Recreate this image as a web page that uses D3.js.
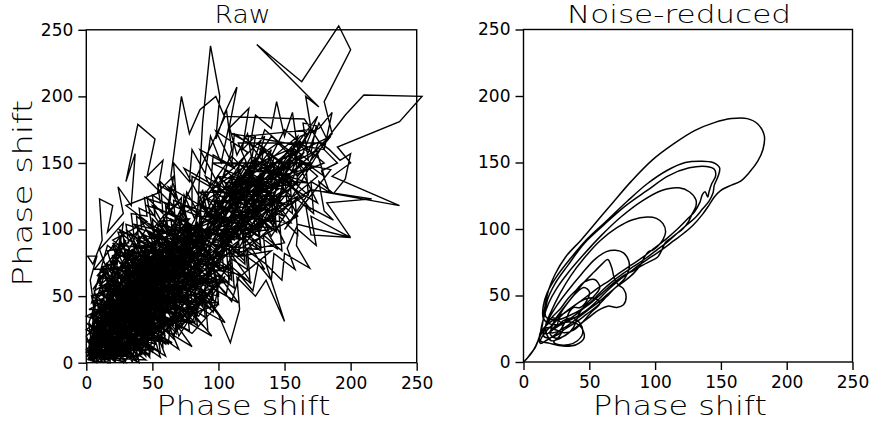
<!DOCTYPE html>
<html>
<head>
<meta charset="utf-8">
<script src="https://cdn.jsdelivr.net/npm/d3@7"></script>
<style>
  body { margin: 0; background: #fff; }
  text { font-family: "DejaVu Sans", sans-serif; fill: #000; }
</style>
</head>
<body>
<div id="chart"></div>
<script>
// Tick values shared by both panels
var tickValues = [0, 50, 100, 150, 200, 250];
var panelTitles = ["Raw", "Noise-reduced"];
var axisTitle = "Phase shift";

// Raw trajectory (phase shift vs delayed phase shift)
var rawTrace = [
  [3,4],[9,15],[5,26],[14,20],[11,38],[20,31],[17,48],[27,40],[23,58],[33,47],[30,66],[40,55],[36,35],[46,48],[42,25],[52,38],[45,15],[34,20],[38,4],[26,14],[28,0],[18,8],[20,2],[10,10],[12,1],[4,9],[1,2],
  [6,12],[2,24],[12,30],[8,45],[18,40],[15,58],[26,52],[22,72],[34,64],[30,82],[42,76],[40,95],[52,88],[50,108],[62,96],[60,118],[72,104],[74,126],[82,108],[88,130],[92,110],[100,122],[96,96],[86,102],[90,80],[78,90],[80,66],[68,78],[70,55],[58,68],[60,44],[48,58],[52,34],[40,46],[44,22],[32,36],[34,12],[24,26],[22,6],[14,18],[10,4],[4,14],
  [8,30],[4,50],[14,44],[10,66],[22,58],[20,80],[30,72],[28,96],[40,86],[38,110],[50,100],[46,124],[58,112],[56,136],[68,124],[66,150],[78,136],[80,160],[90,142],[94,170],[102,150],[108,178],[114,156],[122,172],[126,148],[134,160],[130,132],[142,146],[138,118],[148,128],[140,100],[128,112],[132,88],[118,100],[120,76],[108,88],[110,62],[96,76],[100,52],[86,66],[88,42],[76,56],[78,32],[66,46],[68,22],[56,36],[58,12],[46,26],[48,4],[36,18],[30,6],[22,16],[16,6],[8,12],
  [12,22],[6,40],[3,62],[8,80],[1,80],[5,74],[12,92],[10,123],[20,118],[16,98],[28,112],[24,132],[34,118],[37,157],[30,136],[39,179],[52,168],[46,140],[58,152],[54,128],[66,140],[62,112],[72,124],[70,98],[60,86],[64,66],[52,74],[55,52],[42,62],[44,40],[32,50],[34,28],[22,38],[24,14],[14,26],[14,6],[6,18],
  [10,28],[18,46],[26,40],[34,62],[44,56],[52,78],[62,70],[70,92],[78,84],[84,110],[88,180],[94,238],[101,200],[98,168],[106,190],[110,160],[104,140],[116,150],[112,122],[100,132],[96,108],[86,118],[88,94],[76,104],[78,80],[66,90],[68,64],[56,74],[58,50],[46,60],[48,36],[36,46],[38,22],[26,32],[28,10],[16,20],[18,2],[8,10],
  [14,24],[22,38],[20,54],[32,50],[30,70],[44,66],[42,88],[56,84],[54,104],[68,100],[66,122],[80,116],[80,140],[94,132],[96,156],[110,148],[112,172],[124,164],[128,186],[140,176],[144,196],[150,170],[156,188],[160,160],[170,176],[166,200],[176,192],[129,239],[163,211],[191,253],[200,235],[180,196],[186,172],[174,160],[180,140],[166,150],[168,126],[154,138],[156,112],[142,124],[144,98],[130,110],[132,86],[118,98],[120,74],[106,86],[108,60],[94,72],[96,48],[82,60],[84,36],[70,48],[72,26],[58,36],[60,14],[46,24],[44,6],[32,16],[26,4],[18,12],[10,4],[4,10],
  [10,20],[16,36],[24,30],[30,48],[40,42],[46,62],[56,56],[62,78],[72,72],[78,94],[88,88],[94,112],[104,104],[110,126],[120,118],[126,140],[136,132],[142,154],[152,146],[158,166],[168,158],[176,180],[182,168],[196,186],[210,201],[254,200],[237,181],[190,162],[200,150],[186,140],[237,118],[170,130],[216,123],[182,120],[200,94],[170,110],[174,88],[160,100],[159,88],[169,71],[150,82],[148,62],[136,74],[150,31],[136,62],[128,50],[114,64],[116,40],[109,15],[100,36],[90,48],[92,24],[80,36],[70,20],[66,34],[54,22],[56,8],[44,16],[38,2],[30,12],[22,4],[14,14],[6,6],
  [12,30],[20,46],[28,42],[36,60],[44,54],[52,74],[60,68],[66,92],[58,110],[70,120],[64,140],[72,200],[78,172],[86,190],[98,200],[104,186],[114,207],[108,176],[123,191],[118,160],[128,170],[124,146],[136,152],[132,128],[144,134],[140,112],[126,120],[128,96],[114,106],[116,82],[102,92],[104,68],[90,78],[92,56],[78,66],[80,44],[66,54],[68,34],[54,44],[56,24],[42,34],[44,14],[30,22],[32,4],[20,12],[14,2],[6,8],
  [12,18],[18,32],[26,28],[32,44],[40,40],[48,56],[56,52],[64,70],[72,66],[80,84],[88,80],[96,98],[104,94],[112,112],[120,108],[128,126],[136,122],[144,140],[152,136],[160,154],[168,148],[176,166],[184,160],[192,152],[200,157],[196,138],[187,127],[176,136],[180,114],[187,107],[166,118],[170,96],[200,94],[160,104],[152,86],[158,70],[142,82],[140,62],[130,74],[126,54],[116,66],[110,46],[100,58],[96,38],[86,50],[82,30],[72,42],[68,24],[58,36],[54,18],[44,28],[40,10],[32,20],[26,6],[18,16],[10,6],[4,14],
  [8,22],[16,16],[14,34],[24,26],[20,44],[30,38],[28,56],[38,50],[36,68],[46,62],[44,80],[54,74],[52,92],[62,86],[60,104],[70,98],[74,116],[80,94],[84,106],[88,84],[78,78],[82,60],[70,66],[72,48],[60,56],[62,40],[50,48],[52,30],[40,38],[42,20],[30,28],[32,10],[20,18],[22,2],[12,8],[6,16],[2,6],
  [4,26],[10,40],[6,54],[16,60],[12,72],[24,76],[20,88],[32,90],[30,104],[42,100],[40,116],[52,110],[50,126],[62,118],[64,132],[74,114],[76,128],[86,110],[84,90],[72,96],[74,74],[62,80],[64,60],[52,66],[54,46],[42,52],[44,32],[32,38],[34,18],[22,24],[24,8],[12,14],[8,2],[2,8],
  [10,12],[20,22],[16,34],[28,30],[26,46],[38,42],[36,58],[48,52],[46,70],[58,64],[56,82],[68,76],[66,94],[78,88],[76,106],[88,98],[86,118],[98,110],[96,130],[108,120],[110,140],[120,128],[124,146],[132,118],[126,104],[118,112],[116,92],[106,100],[104,80],[94,88],[92,68],[82,76],[80,56],[70,64],[68,44],[58,52],[56,32],[46,40],[44,22],[34,28],[32,12],[22,18],[20,4],[10,8],
  [6,20],[14,28],[10,42],[22,38],[18,52],[30,48],[26,62],[38,58],[34,74],[46,70],[44,86],[56,82],[54,96],[66,92],[64,108],[76,102],[74,118],[86,112],[90,128],[96,108],[92,92],[100,86],[94,70],[84,78],[86,60],[74,68],[76,50],[64,58],[66,40],[54,48],[56,30],[44,38],[46,20],[34,28],[36,10],[24,18],[26,2],[14,10],[8,0],[2,4],
  [12,26],[22,40],[32,36],[40,54],[50,50],[58,68],[68,64],[76,84],[86,80],[94,100],[104,96],[112,116],[122,112],[130,132],[140,128],[146,150],[156,144],[162,166],[170,158],[174,178],[164,180],[168,152],[158,160],[160,134],[150,142],[152,118],[140,124],[142,100],[130,108],[132,84],[120,92],[122,70],[110,78],[112,56],[98,66],[100,44],[88,54],[90,34],[76,44],[78,24],[64,32],[62,14],[50,22],[48,6],[36,14],[30,2],[20,10],[12,4],[4,12],
  [6,34],[14,50],[10,64],[20,70],[16,84],[28,86],[24,98],[36,96],[34,112],[46,110],[44,124],[56,120],[54,134],[64,128],[60,112],[50,100],[56,88],[44,82],[48,68],[36,66],[40,52],[28,52],[32,38],[20,40],[24,26],[12,28],[16,14],[6,16],[2,4],
  [16,20],[30,34],[44,48],[58,62],[72,76],[86,92],[100,104],[112,120],[126,130],[138,146],[150,156],[162,170],[176,176],[186,188],[180,160],[190,150],[178,144],[184,128],[170,136],[172,112],[158,124],[160,96],[146,110],[148,84],[134,96],[136,74],[122,84],[124,60],[110,72],[106,52],[96,62],[94,40],[82,50],[84,28],[70,38],[66,18],[56,28],[50,8],[40,18],[34,4],[24,12],[14,6],[6,10],
  [5,30],[50,45],[15,10],[60,70],[25,55],[70,40],[35,75],[80,85],[40,25],[90,70],[55,95],[20,40],[75,55],[30,85],[65,25],[45,60],[85,100],[50,80],[10,15],[55,30],[20,65],[70,90],[35,30],[95,85],[60,110],[40,50],[80,60],[45,100],[15,50],[60,20],[30,45],[75,105],[50,65],[25,15],[65,50],[10,45],[40,10],[55,75],[20,25],[85,70],[45,85],[30,5],[5,20],
  [20,30],[80,95],[60,120],[110,100],[90,140],[130,115],[100,85],[70,110],[120,140],[140,125],[110,155],[85,120],[130,95],[150,145],[115,130],[95,105],[140,160],[125,110],[160,135],[105,125],[80,75],[125,150],[100,115],[150,120],[120,90],[90,125],[135,170],[115,105],[145,100],[100,140],[75,95],[110,70],[60,80],[95,60],[50,55],[85,40],[40,40],[70,30],[25,25],[50,10],[10,8],
  [2,15],[30,30],[8,40],[40,35],[15,60],[45,50],[20,20],[55,55],[25,75],[60,60],[30,35],[65,75],[35,90],[50,40],[10,30],[35,55],[5,50],[45,70],[20,45],[60,45],[25,10],[55,35],[15,35],[50,60],[30,65],[70,65],[40,80],[75,70],[45,45],[80,80],[50,100],[85,90],[55,70],[35,45],[65,40],[25,35],[45,20],[15,25],[35,15],[5,5],
  [12,36],[38,20],[24,48],[52,42],[30,60],[62,55],[42,72],[72,60],[48,88],[78,74],[56,62],[88,92],[64,104],[94,80],[70,84],[100,100],[76,118],[104,108],[82,96],[108,90],[86,70],[112,100],[90,112],[118,120],[96,90],[68,70],[92,50],[60,58],[84,46],[52,50],[74,34],[44,42],[64,26],[36,32],[54,16],[28,24],[42,8],[20,16],[30,0],[8,6],
  [4,18],[24,50],[10,58],[36,80],[20,92],[46,106],[30,118],[56,128],[44,140],[66,118],[50,96],[74,100],[58,76],[82,84],[66,60],[90,66],[72,48],[96,56],[78,36],[100,44],[80,22],[60,34],[70,10],[50,24],[56,4],[36,18],[40,0],[20,10],[16,0],[2,10],
  [20,22],[60,60],[100,80],[140,110],[170,130],[150,100],[185,145],[160,150],[175,120],[140,140],[165,165],[130,150],[155,125],[120,125],[145,85],[110,110],[135,70],[100,95],[125,60],[90,80],[115,45],[80,65],[105,30],[70,50],[95,20],[60,40],[80,12],[50,30],[60,5],[35,20],[30,2],[12,12],[4,2],
  [6,26],[32,42],[16,66],[44,58],[28,86],[56,76],[38,102],[66,90],[50,118],[78,104],[62,132],[90,116],[74,146],[102,130],[86,160],[112,146],[98,174],[122,158],[104,130],[128,136],[110,112],[134,116],[112,96],[138,100],[116,80],[140,84],[118,66],[96,70],[100,50],[76,56],[80,36],[58,44],[62,24],[40,32],[44,12],[22,22],[26,4],[8,12],
  [3,8],[18,30],[3,36],[26,44],[10,52],[34,60],[18,70],[42,74],[26,88],[52,86],[36,104],[60,98],[46,118],[70,110],[58,88],[82,96],[68,74],[92,82],[74,58],[98,64],[80,44],[62,50],[66,30],[46,38],[50,18],[30,26],[34,6],[16,14],[18,0],[2,2],
  [10,10],[45,60],[105,185],[165,183],[180,160],[110,172],[150,150],[95,150],[140,128],[85,128],[130,100],[70,100],[120,80],[60,80],[105,60],[50,62],[95,45],[40,48],[80,30],[30,35],[65,15],[20,20],[45,2],[6,4],
  [0,20],[40,60],[5,45],[45,35],[10,70],[50,75],[15,5],[35,70],[55,50],[20,80],[60,85],[25,40],[65,55],[30,10],[50,90],[10,55],[40,20],[0,35],[30,50],[55,25],[15,45],[45,80],[25,30],[60,65],[35,5],[5,25],[40,45],[20,55],[50,45],[10,20],[30,60],[55,60],[0,10],
  [8,4],[22,34],[36,14],[48,48],[28,72],[58,58],[38,38],[62,82],[44,64],[70,74],[52,38],[76,90],[56,104],[84,86],[66,68],[46,28],[24,44],[12,24],[30,20],[18,54],[42,56],[26,12],[50,22],[14,38],[6,12],
  [60,50],[120,130],[90,70],[150,140],[110,150],[170,150],[130,100],[100,120],[160,170],[140,105],[115,165],[180,165],[150,115],[120,95],[175,140],[135,175],[105,90],[165,125],[125,155],[95,105],[155,160],[145,120],[110,135],[185,170],[160,140],[130,165],[170,115],[140,150],[100,80],[150,90],[120,150],[90,95],[140,170],[165,150],[115,110],[155,105],[130,140],[105,120],[180,150],[150,175],[125,125],[95,80],[145,135],[120,170],[170,175],[135,115],[110,100],[160,125],[140,95],[115,145],[85,90],[130,85],[100,140],[150,130],[120,110],[90,60],[70,70],[40,30],
  [30,40],[85,80],[105,145],[130,120],[95,130],[145,165],[165,145],[125,135],[150,110],[110,125],[175,160],[140,130],[115,85],[160,110],[135,160],[100,110],[155,150],[120,120],[145,145],[175,185],[155,135],[125,100],[105,135],[138,138],[168,135],[128,148],[98,100],[148,125],[112,92],[86,110],[132,108],[118,140],[88,75],[108,115],[78,100],[102,70],[70,85],[96,60],[60,70],[84,50],[50,55],[72,40],[40,42],[58,28],[24,30],[36,12],[10,6],
  [4,20],[30,15],[12,40],[38,30],[18,58],[46,44],[26,70],[54,58],[34,84],[62,70],[44,96],[70,84],[52,60],[78,96],[60,76],[86,88],[64,52],[40,64],[48,36],[22,50],[30,22],[8,32],[16,8],[42,24],[28,46],[56,40],[36,58],[64,62],[46,78],[74,74],[54,90],[82,80],[62,100],[88,104],[70,66],[50,50],[76,58],[58,44],[84,66],[66,36],[44,54],[24,36],[50,30],[32,8],[14,22],[6,2],
  [2,28],[22,18],[10,48],[34,38],[20,62],[44,50],[28,80],[52,68],[38,92],[60,82],[48,104],[68,94],[56,72],[80,76],[66,58],[88,70],[72,46],[50,62],[58,36],[36,50],[44,26],[20,40],[26,14],[6,22],[12,4],[38,16],[18,32],[44,40],[24,56],[54,48],[34,68],[62,60],[42,84],[70,76],[50,94],[76,88],[58,64],[82,58],[64,40],[40,44],[48,20],[28,34],[34,4],[14,16],[2,12],
  [8,50],[28,28],[14,68],[40,50],[22,86],[48,66],[30,100],[56,80],[40,110],[64,90],[72,112],[80,98],[66,76],[90,92],[76,62],[94,72],[80,50],[58,50],[66,28],[44,36],[52,14],[30,20],[36,2],[16,12],[22,30],[4,36],[10,14],[34,46],[16,48],[42,58],[26,64],[52,72],[34,78],[60,86],[44,92],[68,100],[54,106],[78,108],[62,88],[86,82],[70,70],[92,62],[72,54],[48,46],[56,24],[36,30],[42,6],[20,4],[8,18],
  [0,4],[15,20],[0,30],[20,12],[5,40],[25,25],[10,60],[30,45],[15,75],[35,60],[20,90],[40,70],[25,100],[45,90],[50,60],[60,95],[65,50],[75,80],[80,60],[70,35],[55,45],[60,15],[45,30],[45,5],[30,25],[35,0],[20,30],[22,0],[10,25],[5,0],[3,18],
  [0,15],[35,50],[5,35],[40,75],[10,25],[50,65],[15,50],[55,85],[20,10],[60,50],[25,65],[65,90],[30,15],[70,60],[35,85],[75,100],[40,40],[80,70],[45,100],[85,80],[50,20],[20,35],[55,60],[25,85],[60,35],[30,55],[65,70],[35,20],[70,95],[40,65],[75,45],[45,15],[15,30],[50,85],[20,60],[55,40],[5,15],[40,30],[10,40],[45,55],[0,25],[30,5],[3,5],
  [6,30],[28,64],[12,16],[46,70],[22,40],[58,90],[34,52],[70,80],[38,26],[80,92],[50,74],[88,96],[62,66],[48,30],[72,70],[54,96],[84,74],[66,100],[92,88],[74,56],[58,82],[44,46],[64,38],[30,44],[52,58],[18,24],[42,62],[26,32],[60,72],[36,36],[68,48],[24,20],[52,36],[14,32],[32,58],[8,20],[28,26],[2,10],
  [10,30],[42,44],[20,70],[56,66],[28,44],[66,84],[42,60],[76,78],[50,48],[86,98],[62,86],[40,80],[70,64],[48,84],[32,30],[58,46],[18,44],[44,32],[14,58],[38,70],[24,24],[54,54],[34,96],[62,78],[76,104],[82,88],[68,58],[88,78],[78,64],[56,70],[74,40],[50,56],[36,22],[62,34],[40,14],[20,28],[30,8],[4,28],[16,2],[0,8],
  [30,30],[70,80],[90,100],[110,90],[100,125],[130,125],[115,105],[90,110],[125,140],[105,100],[80,100],[115,120],[95,75],[125,115],[100,130],[75,85],[110,140],[135,135],[120,100],[85,95],[100,70],[115,135],[90,90],[70,95],[105,110],[80,60],[95,115],[65,75],[85,55],[55,65],[75,50],[45,55],[60,30],[35,45],[45,15],[20,25],[15,5],[2,3],
  [10,5],[60,30],[30,10],[80,45],[50,15],[95,55],[70,25],[105,65],[85,35],[60,45],[100,45],[75,55],[110,75],[90,50],[65,20],[95,70],[80,30],[55,35],[85,60],[70,40],[105,85],[90,65],[115,90],[100,60],[75,35],[50,25],[40,5],[20,5],
  [2,30],[15,70],[5,55],[25,80],[8,65],[30,92],[12,50],[35,85],[18,75],[40,100],[22,65],[28,105],[10,85],[20,58],[4,45],[16,88],[30,78],[14,40],[26,95],[6,70],[34,72],[18,48],[2,40],
  [40,40],[100,110],[140,150],[110,120],[150,155],[125,118],[160,160],[135,145],[105,105],[145,130],[120,145],[155,140],[130,128],[100,95],[140,120],[115,125],[165,158],[135,125],[108,128],[125,95],[95,90],[120,105],[80,70],[60,40],[30,20],[5,5]
];

// Noise-reduced trajectory, a set of smooth loops
var smoothTrace = [
  [0,0],[3,3],[7,8],[11,16],[14,26],[16,40],[19,54],[24,66],[32,79],[44,92],[56,106],[68,120],[82,136],[98,152],[114,164],[130,174],[145,180],[158,183],[170,183],[178,179],[183,170],[182,160],[178,151],[172,143],[165,136],[158,133],[150,129],[145,124],[141,118],[136,111],[129,103],[122,97],[114,91],[106,85],[97,79],[88,73],[80,67],[72,61],[64,54],[56,46],[48,39],[40,34],[32,30],[25,28],[19,29],[15,33],
  [15,42],[18,52],[25,64],[35,77],[48,92],[63,106],[79,121],[94,134],[109,144],[123,150],[135,151],[144,150],[149,146],[148,140],[145,133],[144,127],[141,121],[136,115],[131,109],[124,103],[117,97],[109,90],[101,84],[93,78],[84,72],[75,66],[67,60],[59,53],[51,45],[43,39],[35,35],[27,32],[21,32],[17,34],
  [18,46],[24,59],[34,73],[46,89],[61,103],[77,117],[94,129],[110,140],[126,146],[139,147],[145,145],[146,140],[143,134],[141,128],[140,124],[138,128],[136,126],[134,120],[130,113],[124,107],[117,100],[109,93],[100,86],[91,79],[82,73],[73,67],[65,61],[57,56],[49,50],[41,44],[33,38],[25,33],[19,29],[15,25],[13,22],
  [15,32],[19,44],[25,55],[33,66],[45,80],[59,95],[74,109],[90,121],[105,129],[118,131],[126,128],[131,122],[131,117],[128,111],[125,105],[121,100],[117,97],[112,93],[108,90],[105,84],[102,79],[97,76],[91,73],[84,69],[76,65],[68,59],[60,52],[52,45],[44,39],[36,33],[28,28],[22,24],[17,21],
  [17,28],[21,38],[28,52],[36,65],[46,78],[58,91],[71,101],[83,107],[94,109],[101,108],[106,104],[108,98],[106,92],[102,87],[98,84],[95,83],[92,79],[89,73],[84,67],[77,61],[70,56],[63,49],[56,42],[48,36],[40,30],[32,25],[25,20],[19,18],[15,20],
  [18,30],[25,42],[34,54],[44,66],[54,77],[63,83],[70,84],[76,82],[80,76],[80,69],[77,63],[71,57],[64,51],[57,45],[49,39],[41,33],[33,27],[26,23],[21,22],
  [23,30],[30,40],[38,50],[46,60],[54,68],[60,74],[64,77],[67,71],[69,63],[72,58],[76,55],[78,49],[76,43],[71,41],[64,42],[57,39],[49,33],[41,27],[33,21],[26,17],[21,16],
  [18,20],[17,27],[21,33],[27,31],[30,25],[27,19],[23,15],[27,13],[34,13],[41,16],[45,22],[43,29],[37,33],[30,31],[26,27],[28,36],[34,45],[40,52],[46,56],[50,53],[48,46],[43,41],[38,41],[35,38],[32,31],[28,24],[22,19],[17,16],[13,14],[12,18],[14,24],[19,26],[25,24],[31,22],[38,24],[45,30],[52,38],[58,44],[54,48],[46,47],[38,42],[30,36],[24,30],[18,24],[13,16],
  [20,14],[30,12],[40,13],[46,18],[44,26],[36,30],[26,28],[20,22],[24,18],[32,20],[38,26],[42,36],[48,44],[54,50],[58,56],[54,62],[46,60],[40,54],[34,48],[28,40],[22,34],[16,26],[12,18],[9,11],[6,7],[3,3],[1,1]
];

var svgWidth = 875;
var svgHeight = 427;

var svg = d3.select("#chart")
    .append("svg")
    .attr("width", svgWidth)
    .attr("height", svgHeight);

var panels = [
    {left: 86.3, right: 416.7, top: 29.8, bottom: 362.7, data: rawTrace, smooth: false, yTitle: true},
    {left: 523.5, right: 852.5, top: 29.5, bottom: 362.0, data: smoothTrace, smooth: true, yTitle: false}
];

panels.forEach(function(p, i) {
    var width = p.right - p.left;
    var height = p.bottom - p.top;

    var xScale = d3.scaleLinear().domain([0, 250]).range([0, width]);
    var yScale = d3.scaleLinear().domain([0, 250]).range([height, 0]);

    var g = svg.append("g")
        .attr("transform", `translate(${p.left}, ${p.top})`);

    // trajectory
    var line = d3.line()
        .x(d => xScale(d[0]))
        .y(d => yScale(d[1]));
    if (p.smooth) {
        line.curve(d3.curveCatmullRom.alpha(0.5));
    }
    g.append("path")
        .datum(p.data)
        .attr("d", line)
        .attr("fill", "none")
        .attr("stroke", "#000")
        .attr("stroke-width", p.smooth ? 1.5 : 1.4)
        .attr("stroke-linejoin", "miter");

    // frame
    g.append("rect")
        .attr("width", width)
        .attr("height", height)
        .attr("fill", "none")
        .attr("stroke", "#000")
        .attr("stroke-width", 1.4);

    var bottomAxis = d3.axisBottom(xScale)
        .tickValues(tickValues)
        .tickSize(8)
        .tickPadding(6)
        .tickFormat(d3.format("d"));
    var leftAxis = d3.axisLeft(yScale)
        .tickValues(tickValues)
        .tickSize(8)
        .tickPadding(5)
        .tickFormat(d3.format("d"));

    var xAxis = g.append("g")
        .attr("transform", `translate(0, ${height})`)
        .call(bottomAxis);
    var yAxis = g.append("g")
        .call(leftAxis);

    [xAxis, yAxis].forEach(function(ax) {
        ax.select(".domain").remove();
        ax.selectAll("line").attr("stroke", "#000").attr("stroke-width", 1.4);
        ax.selectAll("text")
            .attr("font-size", "17px")
            .attr("font-family", "DejaVu Sans, sans-serif")
            .attr("fill", "#000");
    });

    // title over the panel
    svg.append("text")
        .attr("x", p.left + width / 2 - 9)
        .attr("y", 22.5)
        .attr("text-anchor", "middle")
        .attr("font-size", "24px")
        .attr("font-weight", 200)
        .attr("textLength", i === 0 ? 56 : 224)
        .attr("lengthAdjust", "spacingAndGlyphs")
        .text(panelTitles[i]);

    // x axis title
    svg.append("text")
        .attr("x", p.left + width / 2 - 8)
        .attr("y", 415)
        .attr("text-anchor", "middle")
        .attr("font-size", "26px")
        .attr("font-weight", 200)
        .attr("textLength", 174)
        .attr("lengthAdjust", "spacingAndGlyphs")
        .text(axisTitle);

    // y axis title only on the left panel
    if (p.yTitle) {
        svg.append("text")
            .attr("transform", `translate(32, ${p.top + height / 2 - 3}) rotate(-90)`)
            .attr("text-anchor", "middle")
            .attr("font-size", "27px")
            .attr("font-weight", 200)
            .attr("textLength", 187)
            .attr("lengthAdjust", "spacingAndGlyphs")
            .text(axisTitle);
    }
});
</script>
</body>
</html>
